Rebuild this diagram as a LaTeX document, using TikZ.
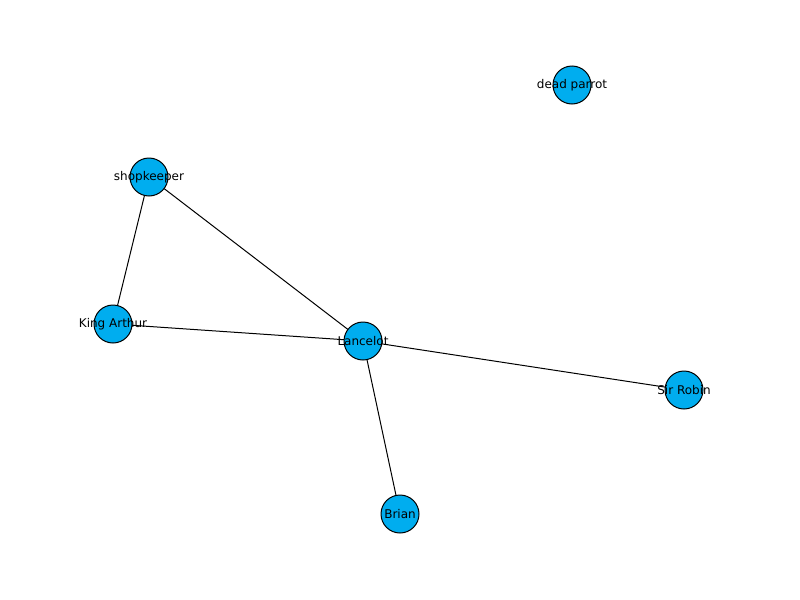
\documentclass[tikz,border=0pt]{standalone}
\usepackage{fontspec}
\setmainfont{DejaVu Sans}
\begin{document}
\begin{tikzpicture}[x=0.75pt,y=-0.75pt,
  nd/.style={circle,draw=black,fill=cyan,minimum size=28.5pt,inner sep=0pt,line width=0.75pt},
  lb/.style={font=\fontsize{9}{10}\selectfont},
  ed/.style={line width=0.75pt}]
\useasboundingbox (0,0) rectangle (800,600);
\foreach \n/\x/\y in {dp/572/85, sk/149/177, ka/113/324, la/363/341, sr/684/390, br/400/514}
  \coordinate (\n) at (\x,\y);
\draw[ed] (sk) -- (ka);
\draw[ed] (sk) -- (la);
\draw[ed] (ka) -- (la);
\draw[ed] (la) -- (sr);
\draw[ed] (la) -- (br);
\node[nd] (ndp) at (dp) {}; \node[lb] at (dp) {dead parrot};
\node[nd] (nsk) at (sk) {}; \node[lb] at (sk) {shopkeeper};
\node[nd] (nka) at (ka) {}; \node[lb] at (ka) {King Arthur};
\node[nd] (nla) at (la) {}; \node[lb] at (la) {Lancelot};
\node[nd] (nsr) at (sr) {}; \node[lb] at (sr) {Sir Robin};
\node[nd] (nbr) at (br) {}; \node[lb] at (br) {Brian};
\end{tikzpicture}
\end{document}
